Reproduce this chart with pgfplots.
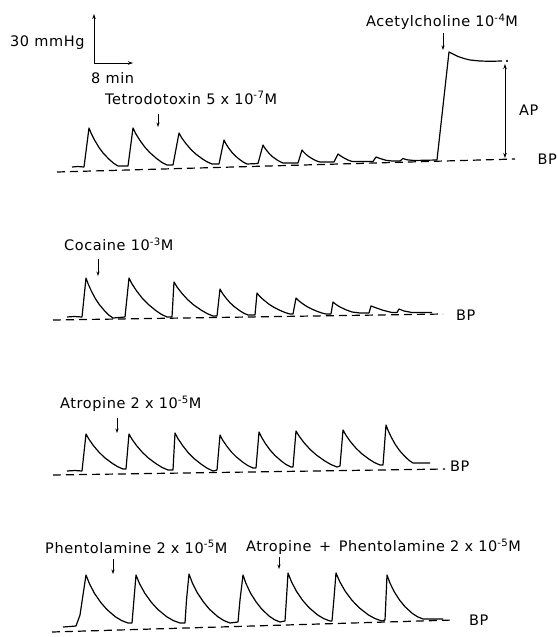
\documentclass[border=0pt]{standalone}
\usepackage{pgfplots}
\pgfplotsset{compat=1.18}
\usepackage{fontspec}
\setmainfont{DejaVu Sans}[LetterSpace=4]
\usetikzlibrary{arrows.meta}
\newcommand{\supx}[1]{\textsuperscript{#1}}
\begin{document}
\begin{tikzpicture}[font=\fontsize{14.5}{17}\selectfont,
  lbl/.style={anchor=west, inner sep=0pt},
  dn/.style={-{Stealth[length=4.5pt,width=3.2pt]}, line width=0.8pt}]
\begin{axis}[scale only axis, width=557pt, height=637pt,
  xmin=0, xmax=557, ymin=0, ymax=637, y dir=reverse,
  axis line style={draw=none}, ticks=none, clip=false]
% ---------- baselines (dashed) ----------
\addplot[black, line width=1.2pt, dash pattern=on 8pt off 5pt] coordinates {(57,172)(515,159)};
\addplot[black, line width=1.2pt, dash pattern=on 8pt off 5pt] coordinates {(53,320)(443,314)};
\addplot[black, line width=1.2pt, dash pattern=on 8pt off 5pt] coordinates {(53,475)(445,469)};
\addplot[black, line width=1.2pt, dash pattern=on 8pt off 5pt] coordinates {(52,632)(453,620)};
% ---------- trace 1 : tetrodotoxin + acetylcholine ----------
\addplot[black, line width=1.2pt, line join=round] coordinates {
(72,167)(78,166.5)(84,167)
(89,128)(91.3,133.7)(94.8,140.5)(99.2,147.8)(103.5,153.5)(109.3,159.5)(113.7,163.3)(118,166)(128,166)
(133,128)(135.7,133.6)(139.8,140.2)(144.9,147.2)(150,152.8)(156.8,158.7)(161.9,162.4)(167,165)(173,165)
(179,133)(181.6,137.7)(185.6,143.2)(190.6,149.1)(195.5,153.8)(202.1,158.7)(207,161.8)(212,164)(219,164)
(224,140)(225.8,143.6)(228.6,147.9)(232,152.5)(235.5,156.1)(240.1,159.9)(243.6,162.3)(247,164)(258,163.5)
(263,145)(264.6,147.7)(267,150.9)(270,154.4)(273,157.1)(277,159.9)(280,161.7)(283,163)(298,163)
(302,150)(303.4,151.8)(305.6,154)(308.3,156.2)(311,158)(314.6,160)(317.3,161.2)(320,162)(334,162)
(338,154)(340,155.5)(344,158)(348,160)(352,161.5)(373,161.5)
(376,157)(380,158.5)(386,160.3)(392,161)(400,161)
(403,158.5)(407,159.8)(414,160.5)(437,160)
(449,52)(453,54)(458,56.5)(464,58.5)(470,60)(480,61)(490,61.3)(502,61)};
\addplot[only marks, mark=*, mark size=0.9pt, black] coordinates {(507,61)};
% ---------- trace 2 : cocaine ----------
\addplot[black, line width=1.2pt, line join=round] coordinates {
(67,317)(74,316.5)(82,317)
(86,278)(88.2,284)(91.4,291.2)(95.5,298.8)(99.5,304.8)(104.9,311.2)(109,315.2)(113,318)(125,317)
(129,278)(132,283.9)(136.6,290.9)(142.3,298.3)(148,304.1)(155.6,310.4)(161.3,314.3)(167,317)(172,317)
(174,282)(177.1,287.1)(181.8,293.2)(187.7,299.7)(193.5,304.8)(201.3,310.2)(207.2,313.6)(213,316)(217,316)
(220,289)(222.2,293)(225.6,297.6)(229.8,302.5)(234,306.4)(239.6,310.6)(243.8,313.2)(248,315)(255,315)
(257,293)(259.6,296.2)(263.6,299.9)(268.6,303.9)(273.5,307.1)(280.1,310.4)(285,312.5)(290,314)(293,314)
(296,298)(298.4,300.4)(302,303.3)(306.5,306.3)(311,308.7)(317,311.3)(321.5,312.9)(326,314)(331,314)
(333,302)(336,304.5)(340,307)(346,309.8)(352,312)(360,313)(369,313)
(371,306)(376,307.8)(383,310.3)(392,312.5)(397,312.5)
(399,309)(404,311)(412,312.5)(432,312.5)};
% ---------- trace 3 : atropine ----------
\addplot[black, line width=1.2pt, line join=round] coordinates {
(67,471)(75,470.5)(82,471)
(86,434)(89,439.3)(93.4,445.6)(99,452.2)(104.5,457.5)(111.9,463.1)(117.5,466.6)(123,469)(126,469)
(129,434)(132.1,439.4)(136.8,445.9)(142.7,452.7)(148.5,458.1)(156.3,463.9)(162.2,467.5)(168,470)(173,470)
(175,433)(178,438.7)(182.6,445.5)(188.3,452.8)(194,458.5)(201.6,464.5)(207.3,468.3)(213,471)(217,470)
(220,435)(222.6,440)(226.6,445.9)(231.6,452.2)(236.5,457.1)(243.1,462.4)(248,465.7)(253,468)(256,468)
(259,432)(261.6,437.3)(265.4,443.6)(270.2,450.2)(275,455.5)(281.4,461.1)(286.2,464.6)(291,467)(293,467)
(296,431)(299.3,436.4)(304.2,442.9)(310.4,449.7)(316.5,455.1)(324.7,460.9)(330.9,464.5)(337,467)(340,466)
(343,430)(346,435.3)(350.4,441.6)(356,448.2)(361.5,453.5)(368.9,459.1)(374.5,462.6)(380,465)(383,465)
(386,425)(388.2,430.7)(391.4,437.5)(395.5,444.8)(399.5,450.5)(404.9,456.5)(409,460.3)(413,463)(430,463)};
% ---------- trace 4 : phentolamine ----------
\addplot[black, line width=1.2pt, line join=round] coordinates {
(63,627)(70,626.5)(76,626)(80,615)(83,595)(86,575)
(89.4,583.6)(94.4,593.2)(100.7,602.4)(107,609.6)(115.4,616.8)(121.7,620.6)(128,623)(132,623)
(133.5,605)(136,575)(139.5,583.6)(144.8,593.2)(151.4,602.4)(158,609.6)(166.8,616.8)(173.4,620.6)(180,623)(185,623)
(186.5,600)(189,574)(192.3,582.8)(197.2,592.6)(203.4,601.9)(209.5,609.3)(217.7,616.6)(223.9,620.6)(230,623)(238,622)
(240,600)(243,575)(246,583.5)(250.4,592.9)(256,601.8)(261.5,608.8)(268.9,615.9)(274.5,619.7)(280,622)(285,621)
(286.5,598)(288,573)(291.4,581.6)(296.4,591.2)(302.7,600.4)(309,607.6)(317.4,614.8)(323.7,618.6)(330,621)(332,621)
(334,598)(336,573)(339.7,581.6)(345.2,591.2)(352.1,600.4)(359,607.6)(368.2,614.8)(375.1,618.6)(382,621)(385,620)
(386,598)(387,575)(389.9,582.9)(394.2,591.7)(399.6,600.1)(405,606.7)(412.2,613.3)(417.6,616.8)(423,619)(443,619)};
% ---------- scale bar ----------
\draw[line width=0.9pt, -{Stealth[length=5pt,width=3.5pt]}] (axis cs:94,63) -- (axis cs:94,14);
\draw[line width=0.9pt, -{Stealth[length=5pt,width=3.5pt]}] (axis cs:94,63) -- (axis cs:133,63);
\node[lbl] at (axis cs:10,43) {30 mmHg};
\node[lbl] at (axis cs:91,78) {8 min};
% ---------- labels and arrows ----------
\node[lbl] at (axis cs:105,98) {Tetrodotoxin 5 x 10\supx{-7}M};
\draw[dn] (axis cs:158,114) -- (axis cs:158,127);
\node[lbl] at (axis cs:366,22) {Acetylcholine 10\supx{-4}M};
\draw[dn] (axis cs:443,33) -- (axis cs:443,50);
\draw[line width=0.9pt, {Stealth[length=5pt,width=3.5pt]}-{Stealth[length=5pt,width=3.5pt]}] (axis cs:505,64) -- (axis cs:505,158);
\node[lbl] at (axis cs:519,110) {AP};
\node[anchor=east, inner sep=0pt] at (axis cs:557,159) {BP};
\node[lbl] at (axis cs:64,244) {Cocaine 10\supx{-3}M};
\draw[dn] (axis cs:98,259) -- (axis cs:98,276);
\node[lbl] at (axis cs:456,315) {BP};
\node[lbl] at (axis cs:60,404) {Atropine 2 x 10\supx{-5}M};
\draw[dn] (axis cs:117,418) -- (axis cs:117,433);
\node[lbl] at (axis cs:450,466) {BP};
\node[lbl] at (axis cs:45,547) {Phentolamine 2 x 10\supx{-5}M};
\draw[dn] (axis cs:113,559) -- (axis cs:113,574);
\node[lbl] at (axis cs:246,547) {Atropine \,+\, Phentolamine 2 x 10\supx{-5}M};
\draw[dn] (axis cs:279,557) -- (axis cs:279,569);
\node[lbl] at (axis cs:469,620) {BP};
\end{axis}
\end{tikzpicture}
\end{document}
